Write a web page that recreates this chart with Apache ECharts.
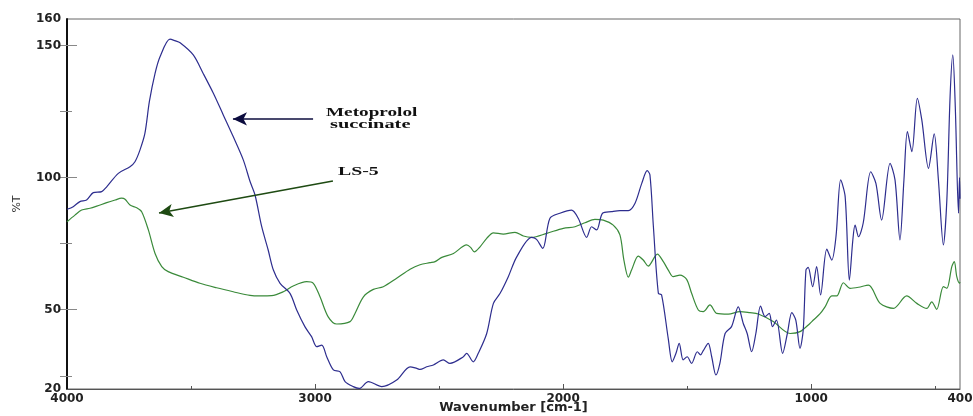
<!DOCTYPE html>
<html>
<head>
<meta charset="utf-8">
<script src="https://cdn.jsdelivr.net/npm/echarts@6/dist/echarts.min.js"></script>
<style>
html,body{margin:0;padding:0;background:#fff;}
#c{width:973px;height:416px;}
</style>
</head>
<body>
<div id="c"></div>
<script>
// Metoprolol succinate (blue)
const blueWn = [4000,3975,3948,3921,3894,3860,3840,3793,3746,3726,3706,3686,3668,3645,3625,3585,3565,3544,3491,3451,3410,3370,3330,3289,3262,3242,3215,3189,3168,3141,3101,3074,3041,3014,2993,2973,2953,2926,2899,2879,2846,2822,2785,2731,2671,2617,2590,2577,2550,2523,2483,2456,2402,2389,2362,2342,2308,2281,2254,2221,2187,2127,2107,2082,2053,2013,1966,1939,1905,1885,1865,1841,1805,1771,1737,1710,1683,1661,1650,1636,1616,1603,1576,1560,1545,1532,1516,1500,1482,1459,1446,1435,1415,1401,1384,1368,1347,1321,1294,1274,1258,1240,1223,1204,1186,1169,1156,1140,1115,1096,1078,1062,1045,1032,1021,1012,994,978,962,937,917,900,881,863,846,832,823,809,790,760,739,716,682,662,642,626,612,594,572,554,527,504,487,467,453,440,429,419,406,402,400];
const blueT  = [88.0,89.0,90.9,91.5,94.3,94.7,96.5,101.6,104.1,106.0,110.4,116.7,128.7,139.4,145.7,152.4,151.8,151.0,146.4,139.4,131.9,123.7,115.5,106.6,98.5,93.4,81.4,72.6,65.0,60.0,56.2,49.9,43.6,39.8,36.0,36.6,32.2,27.2,26.5,22.8,20.9,20.2,22.8,20.9,23.4,28.4,27.8,27.4,28.4,29.1,31.0,29.7,32.2,33.5,30.3,33.5,41.0,52.4,56.2,62.5,70.0,77.4,76.6,73.2,84.6,86.5,87.7,84.6,77.4,81.4,80.2,86.5,87.1,87.5,87.5,90.3,97.8,102.6,101.0,81.4,56.2,55.6,39.0,30.3,33.5,37.3,31.0,32.2,29.7,34.1,32.9,34.5,37.3,32.2,25.3,29.7,41.0,43.6,51.1,44.9,41.0,34.1,41.0,51.4,47.4,48.6,43.6,46.1,33.5,41.0,48.9,46.1,35.4,42.3,65.0,66.0,58.7,66.3,55.6,72.9,68.8,77.6,99.1,92.8,61.2,76.4,82.0,77.6,82.9,102.2,97.8,83.9,105.4,99.1,76.4,99.1,117.4,109.8,130.0,121.8,103.5,116.5,99.1,74.5,91.5,130.6,146.4,126.8,86.5,100.0,92.0];

// LS-5 (green)
const greenWn = [4000,3968,3941,3907,3880,3840,3806,3780,3766,3746,3719,3699,3672,3645,3618,3592,3531,3464,3397,3330,3262,3222,3175,3128,3088,3034,3007,2980,2947,2913,2859,2839,2805,2765,2725,2671,2617,2577,2537,2516,2489,2442,2389,2373,2358,2335,2308,2281,2241,2194,2160,2127,2066,1999,1952,1912,1872,1838,1798,1771,1755,1737,1724,1697,1677,1657,1620,1596,1576,1556,1529,1502,1482,1455,1435,1408,1381,1334,1287,1247,1213,1153,1085,1045,1005,991,965,944,917,897,870,843,809,769,722,668,615,574,534,514,494,467,453,433,423,413,402,400];
const greenT  = [83.3,85.8,87.7,88.4,89.2,90.5,91.5,92.2,91.8,89.6,88.6,87.1,80.2,71.3,66.3,64.4,62.3,60.0,58.3,56.8,55.4,55.2,55.3,56.8,59.0,60.6,60.0,54.9,47.3,44.6,45.5,48.6,54.9,57.7,58.7,61.9,65.3,67.0,67.8,68.2,69.8,71.3,74.5,73.6,71.9,73.8,77.0,79.1,78.6,79.3,77.9,77.4,78.9,80.8,81.4,82.9,84.2,83.9,82.0,78.3,68.8,62.3,65.0,70.3,68.8,66.5,71.0,68.2,65.0,62.5,63.1,61.5,56.2,49.9,49.3,51.8,48.6,48.3,49.3,48.9,48.4,45.5,41.0,41.7,44.8,46.1,48.4,51.1,55.2,55.2,60.2,58.1,58.5,59.3,52.4,50.5,55.2,52.4,50.5,53.0,50.1,58.7,58.1,66.3,68.2,62.5,60.0,60.5];

// axis ticks / labels
const xLabels = [4000,3000,2000,1000,400];
const xMajorTicks = [3000,2000,1000];
const xMinorTicks = [3500,2500,1500,500];
const yLabels = [20,50,100,150,160];
const yMajorTicks = [50,100,150];
const yMinorTicks = [25,75,125];
const yAllTicks = [25,50,75,100,125,150];

// annotation arrows [fromWn, fromT, toWn, toT]
const blueArrow = [3008,122.2,3331,122.2];
const greenArrow = [2928,98.7,3629,86.6];

const zip = (a,b) => a.map((v,i)=>[v,b[i]]);

const chart = echarts.init(document.getElementById('c'), null, {renderer:'canvas'});
const gridBox = {left:67,right:13,top:19,bottom:27,containLabel:false,outerBoundsMode:'none'};
const labFont = {fontFamily:'DejaVu Sans',fontWeight:'bold',fontSize:12,color:'#222',formatter:v=>String(v)};

chart.setOption({
  animation:false,
  backgroundColor:'#fff',
  grid:[
    Object.assign({show:true,borderColor:'#666',borderWidth:1,backgroundColor:'transparent'},gridBox),
    Object.assign({},gridBox),
    Object.assign({},gridBox)
  ],
  xAxis:[
    {gridIndex:0,type:'value',inverse:true,min:400,max:4000,
     name:'Wavenumber [cm-1]',nameLocation:'middle',nameGap:12,nameMoveOverlap:false,
     nameTextStyle:{fontFamily:'DejaVu Sans',fontWeight:'bold',fontSize:13,color:'#222'},
     axisLine:{show:true,lineStyle:{color:'#555',width:1}},
     axisTick:{show:true,inside:true,length:5,customValues:xMajorTicks,lineStyle:{color:'#555'}},
     axisLabel:Object.assign({customValues:xLabels,margin:4},labFont),
     splitLine:{show:false}},
    {gridIndex:1,type:'value',inverse:true,min:400,max:4000,
     axisLine:{show:false},
     axisTick:{show:true,inside:true,length:3,customValues:xMinorTicks,lineStyle:{color:'#555'}},
     axisLabel:{show:false},splitLine:{show:false}},
    {gridIndex:2,type:'value',inverse:true,min:400,max:4000,show:false}
  ],
  yAxis:[
    {gridIndex:0,type:'value',min:20,max:160,
     name:'%T',nameLocation:'middle',nameGap:44,nameRotate:90,nameMoveOverlap:false,
     nameTextStyle:{fontFamily:'DejaVu Sans',fontSize:11,color:'#333'},
     axisLine:{show:true,lineStyle:{color:'#111',width:2}},
     axisTick:{show:true,inside:true,length:10,customValues:yMajorTicks,lineStyle:{color:'#888'}},
     axisLabel:Object.assign({customValues:yLabels,margin:6},labFont),
     splitLine:{show:false}},
    {gridIndex:1,type:'value',min:20,max:160,
     axisLine:{show:false},
     axisTick:{show:true,inside:true,length:5,customValues:yMinorTicks,lineStyle:{color:'#888'}},
     axisLabel:{show:false},splitLine:{show:false}},
    {gridIndex:2,type:'value',min:20,max:160,
     axisLine:{show:false},
     axisTick:{show:true,inside:false,length:7,customValues:yAllTicks,lineStyle:{color:'#888'}},
     axisLabel:{show:false},splitLine:{show:false}}
  ],
  series:[
    {name:'LS-5',type:'line',xAxisIndex:0,yAxisIndex:0,data:zip(greenWn,greenT),
     showSymbol:false,smooth:0.3,lineStyle:{color:'#3a8a3a',width:1.2},
     markLine:{silent:true,symbol:['none','arrow'],symbolSize:[10,14],
       lineStyle:{color:'#1e4a12',width:1.6,type:'solid'},label:{show:false},
       data:[[{coord:[greenArrow[0],greenArrow[1]]},{coord:[greenArrow[2],greenArrow[3]]}]]}},
    {name:'Metoprolol succinate',type:'line',xAxisIndex:0,yAxisIndex:0,data:zip(blueWn,blueT),
     showSymbol:false,smooth:0.3,lineStyle:{color:'#2d2d8e',width:1.2},
     markLine:{silent:true,symbol:['none','arrow'],symbolSize:[10,14],
       lineStyle:{color:'#0c0c3e',width:1.6,type:'solid'},label:{show:false},
       data:[[{coord:[blueArrow[0],blueArrow[1]]},{coord:[blueArrow[2],blueArrow[3]]}]]}}
  ],
  graphic:[
    {type:'text',x:326,y:113,scaleX:1.6,style:{text:'Metoprolol',font:'bold 12px "Liberation Serif"',fill:'#111',textAlign:'left',textVerticalAlign:'middle'}},
    {type:'text',x:330,y:125,scaleX:1.7,style:{text:'succinate',font:'bold 12px "Liberation Serif"',fill:'#111',textAlign:'left',textVerticalAlign:'middle'}},
    {type:'text',x:338,y:172,scaleX:1.65,style:{text:'LS-5',font:'bold 12px "Liberation Serif"',fill:'#111',textAlign:'left',textVerticalAlign:'middle'}}
  ]
});
</script>
</body>
</html>
